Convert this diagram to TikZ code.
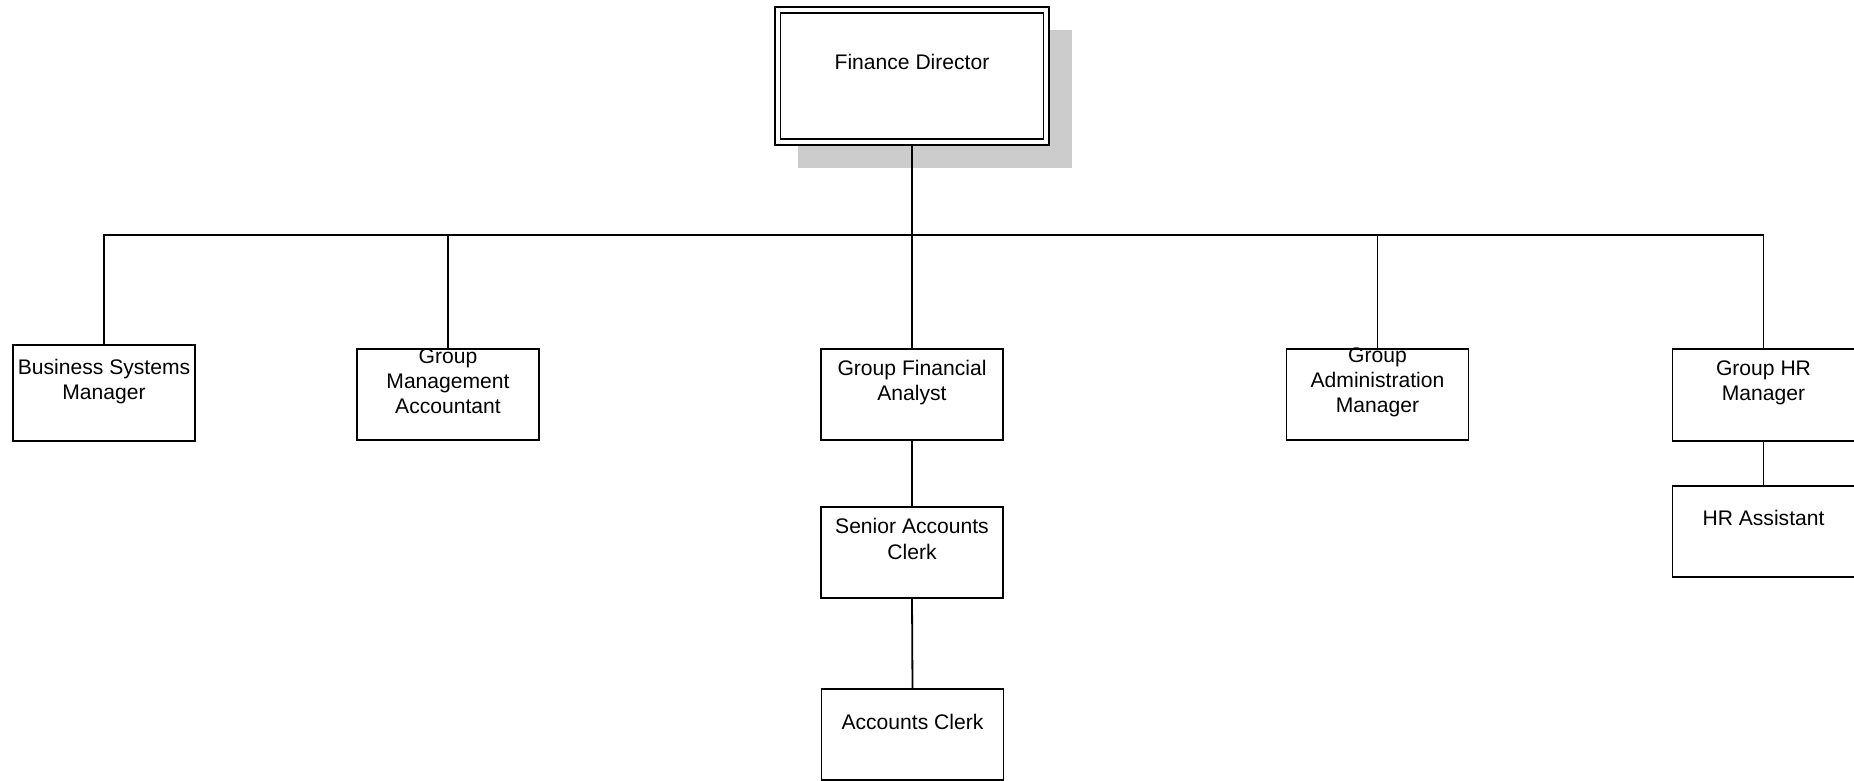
\documentclass[tikz,border=0pt]{standalone}
\usepackage{fontspec}
\setmainfont{Liberation Sans}
\definecolor{shadowgray}{HTML}{CCCCCC}
\begin{document}
\begin{tikzpicture}[x=0.5pt,y=-0.5pt,
  box/.style={draw, line width=0.75pt, fill=white, inner sep=0pt, outer sep=0pt,
    minimum width=91pt, minimum height=45.5pt},
  conn/.style={line width=0.9pt},
  lbl/.style={anchor=center, align=center, inner sep=0pt,
    font=\fontsize{10.55pt}{12.6pt}\selectfont}
]
\useasboundingbox (0,0) rectangle (1854,781);
% shadow of the top box
\fill[shadowgray] (798,30) rectangle (1072,168);
% top box
\node[box, double, double distance=2pt, line width=0.8pt,
  minimum width=134.25pt, minimum height=66pt, outer sep=1.4pt,
  label={[lbl,yshift=-27.6pt]north:Finance Director}] (fd) at (912,76) {};
% second level
\node[box, minimum height=48pt,
  label={[lbl,yshift=-18.2pt]north:Business Systems\\Manager}] (bsm) at (104,393) {};
\node[box,
  label={[lbl,yshift=-16pt]north:Group\\Management\\Accountant}] (gma) at (448,394.5) {};
\node[box,
  label={[lbl,yshift=-16.7pt]north:Group Financial\\Analyst}] (gfa) at (912,394.5) {};
\node[box,
  label={[lbl,yshift=-16.8pt]north:Group\\Administration\\Manager}] (gam) at (1377.5,394.5) {};
\node[box, minimum height=46pt,
  label={[lbl,yshift=-16.8pt]north:Group HR\\Manager}] (ghr) at (1763.5,395) {};
% third level
\node[box,
  label={[lbl,yshift=-16pt]north:Senior Accounts\\Clerk}] (sac) at (912,552.5) {};
\node[box,
  label={[lbl,yshift=-16.5pt]north:Accounts Clerk}] (ac) at (912.5,734.5) {};
\node[box,
  label={[lbl,yshift=-16pt]north:HR Assistant}] (hra) at (1763.5,531.5) {};
% connectors
\coordinate (bus) at (912,235);
\draw[conn] (fd.south) -- (bus);
\draw[conn] (bus) -| (bsm.north);
\draw[conn] (bus) -| (gma.north);
\draw[conn] (bus) -- (gfa.north);
\draw[conn] (bus) -| (gam.north);
\draw[conn] (bus) -| (ghr.north);
\draw[conn] (gfa.south) -- (sac.north);
\draw[conn] (sac.south) -- (ac.north);
\draw[conn] (ghr.south) -- (hra.north);
\end{tikzpicture}
\end{document}
